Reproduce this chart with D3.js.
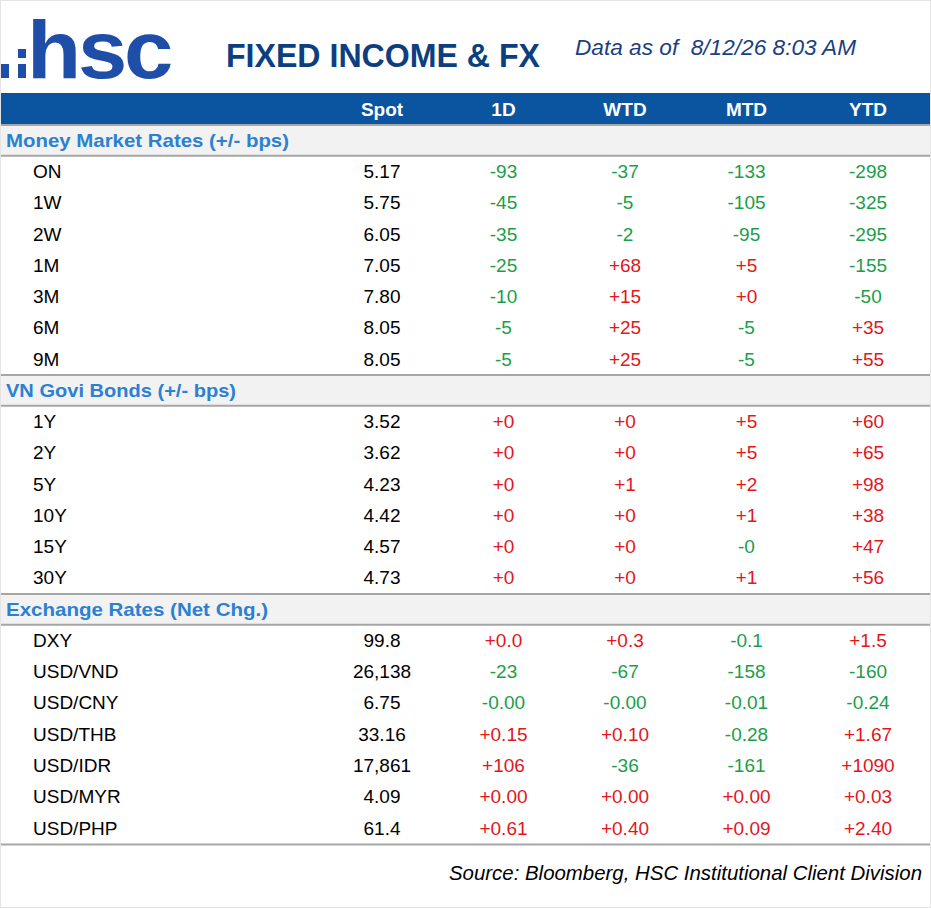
<!DOCTYPE html>
<html><head><meta charset="utf-8">
<script src="https://cdn.jsdelivr.net/npm/d3@7"></script>
<style>body{margin:0;background:#fff;}svg{display:block;font-family:"Liberation Sans",Arial,sans-serif;}</style>
</head><body>
<script>
// ---- data ----
const columns = ["Spot","1D","WTD","MTD","YTD"];

const mmTitle = "Money Market Rates (+/- bps)";
const mmLabels = ["ON","1W","2W","1M","3M","6M","9M"];
const mmSpot = ["5.17","5.75","6.05","7.05","7.80","8.05","8.05"];
const mm1D  = ["-93","-45","-35","-25","-10","-5","-5"];
const mmWTD = ["-37","-5","-2","+68","+15","+25","+25"];
const mmMTD = ["-133","-105","-95","+5","+0","-5","-5"];
const mmYTD = ["-298","-325","-295","-155","-50","+35","+55"];

const bdTitle = "VN Govi Bonds (+/- bps)";
const bdLabels = ["1Y","2Y","5Y","10Y","15Y","30Y"];
const bdSpot = ["3.52","3.62","4.23","4.42","4.57","4.73"];
const bd1D  = ["+0","+0","+0","+0","+0","+0"];
const bdWTD = ["+0","+0","+1","+0","+0","+0"];
const bdMTD = ["+5","+5","+2","+1","-0","+1"];
const bdYTD = ["+60","+65","+98","+38","+47","+56"];

const fxTitle = "Exchange Rates (Net Chg.)";
const fxLabels = ["DXY","USD/VND","USD/CNY","USD/THB","USD/IDR","USD/MYR","USD/PHP"];
const fxSpot = ["99.8","26,138","6.75","33.16","17,861","4.09","61.4"];
const fx1D  = ["+0.0","-23","-0.00","+0.15","+106","+0.00","+0.61"];
const fxWTD = ["+0.3","-67","-0.00","+0.10","-36","+0.00","+0.40"];
const fxMTD = ["-0.1","-158","-0.01","-0.28","-161","+0.00","+0.09"];
const fxYTD = ["+1.5","-160","-0.24","+1.67","+1090","+0.03","+2.40"];

const sections = [
  {title: mmTitle, labels: mmLabels, cols: [mmSpot, mm1D, mmWTD, mmMTD, mmYTD], tl: 283},
  {title: bdTitle, labels: bdLabels, cols: [bdSpot, bd1D, bdWTD, bdMTD, bdYTD], tl: 230},
  {title: fxTitle, labels: fxLabels, cols: [fxSpot, fx1D, fxWTD, fxMTD, fxYTD], tl: 262}
];

// ---- build rows ----
const rows = [];
sections.forEach(s => {
  rows.push({type: "section", title: s.title, tl: s.tl});
  s.labels.forEach((l, i) => rows.push({type: "data", label: l, values: s.cols.map(c => c[i])}));
});

const W = 931, H = 908;
const svg = d3.select("body").append("svg").attr("width", W).attr("height", H);

svg.append("rect").attr("x",0.5).attr("y",0.5).attr("width",W-1).attr("height",H-1)
  .attr("fill","#fff").attr("stroke","#e4e4e4");

const y = d3.scaleBand().domain(d3.range(rows.length)).range([124.5, 843.5]).padding(0);
const x = d3.scalePoint().domain(columns).range([382, 868]);

// logo
const logo = svg.append("g");
logo.append("rect").attr("x",1).attr("y",64).attr("width",8).attr("height",14).attr("fill","#1f4ea8");
logo.append("rect").attr("x",18).attr("y",49).attr("width",8).attr("height",9).attr("fill","#1f4ea8");
logo.append("rect").attr("x",18).attr("y",64).attr("width",8).attr("height",14).attr("fill","#1f4ea8");
logo.append("text").attr("x",27).attr("y",78).attr("font-size",82).attr("font-weight","bold")
  .attr("fill","#1f4ea8").attr("letter-spacing",-3).attr("textLength",143).attr("lengthAdjust","spacingAndGlyphs").text("hsc");

svg.append("text").attr("x",226).attr("y",67).attr("font-size",33).attr("font-weight","bold")
  .attr("fill","#0d3f80").attr("textLength",314).attr("lengthAdjust","spacingAndGlyphs").text("FIXED INCOME & FX");
svg.append("text").attr("x",575).attr("y",55).attr("font-size",22).attr("font-style","italic")
  .attr("fill","#1a3f82").attr("textLength",281).attr("lengthAdjust","spacingAndGlyphs")
  .style("white-space","pre").text("Data as of  8/12/26 8:03 AM");

// header bar
svg.append("rect").attr("x",1).attr("y",93).attr("width",W-2).attr("height",31).attr("fill","#0b55a0");
svg.selectAll("text.colhead").data(columns).join("text").attr("class","colhead")
  .attr("x", d => x(d)).attr("y", 109).attr("dy","0.35em").attr("text-anchor","middle")
  .attr("font-size",19).attr("font-weight","bold").attr("fill","#fff").text(d => d);

// rows
const g = svg.selectAll("g.row").data(rows).join("g").attr("class","row")
  .attr("transform", (d,i) => `translate(0,${y(i)})`);

const bh = y.bandwidth();
g.filter(d => d.type === "section").each(function(d){
  const s = d3.select(this);
  s.append("rect").attr("x",1).attr("y",0).attr("width",W-2).attr("height",bh).attr("fill","#f2f2f2");
  s.append("line").attr("x1",1).attr("x2",W-1).attr("y1",0.5).attr("y2",0.5).attr("stroke","#a6a6a6").attr("stroke-width",2);
  s.append("line").attr("x1",1).attr("x2",W-1).attr("y1",bh).attr("y2",bh).attr("stroke","#a6a6a6").attr("stroke-width",2);
  s.append("text").attr("x",6).attr("y",bh/2).attr("dy","0.35em").attr("font-size",19).attr("font-weight","bold")
    .attr("fill","#2b80d2").attr("textLength",d.tl).attr("lengthAdjust","spacingAndGlyphs").text(d.title);
});

g.filter(d => d.type === "data").each(function(d){
  const s = d3.select(this);
  s.append("text").attr("x",33).attr("y",bh/2).attr("dy","0.35em").attr("font-size",19).attr("fill","#000").text(d.label);
  s.selectAll("text.val").data(d.values.map((v,j) => ({v, c: columns[j], j}))).join("text").attr("class","val")
    .attr("x", e => x(e.c)).attr("y", bh/2).attr("dy","0.35em").attr("text-anchor","middle").attr("font-size",19)
    .attr("fill", e => e.j === 0 ? "#000" : (e.v.startsWith("-") ? "#1a9e4a" : "#e3161c"))
    .text(e => e.v);
});

// bottom rule
svg.append("line").attr("x1",1).attr("x2",W-1).attr("y1",844.5).attr("y2",844.5).attr("stroke","#a6a6a6").attr("stroke-width",2);

svg.append("text").attr("x",922).attr("y",873).attr("dy","0.35em").attr("text-anchor","end").attr("font-size",20)
  .attr("font-style","italic").attr("fill","#000").attr("textLength",473).attr("lengthAdjust","spacingAndGlyphs")
  .text("Source: Bloomberg, HSC Institutional Client Division");
</script>
</body></html>
